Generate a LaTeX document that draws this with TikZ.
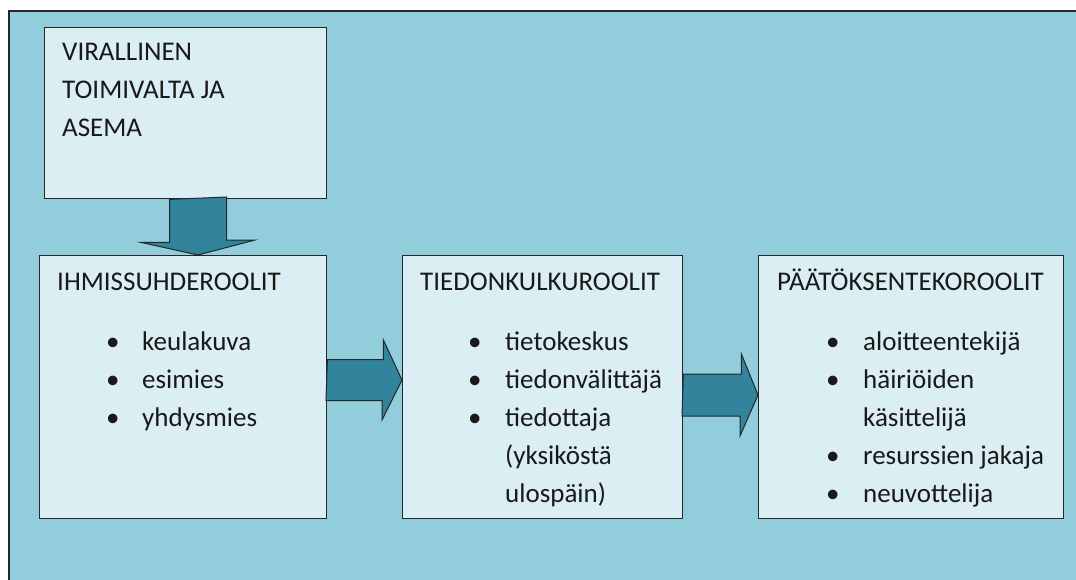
\documentclass[tikz,border=0pt]{standalone}
\usepackage{fontspec}
\setmainfont{Carlito}
\usetikzlibrary{calc}
\definecolor{bgblue}{HTML}{92CDDC}
\definecolor{boxblue}{HTML}{DAEEF3}
\definecolor{arrowteal}{HTML}{31849B}

\begin{document}
\begin{tikzpicture}[
  x=1pt, y=-1pt,
  font=\fontsize{27}{38}\selectfont,
  rolebox/.style={draw=black!85, line width=1.4pt, fill=boxblue, anchor=north west, inner sep=0pt},
  roletext/.style={anchor=base west, inner sep=0pt, text=black!90},
  blockarrow/.style={draw=black!85, line width=1pt, fill=arrowteal, line join=miter}
]
  \useasboundingbox (0,0) rectangle (1076,579);

  % background panel, open to the right and below
  \fill[bgblue] (9,11) rectangle (1100,600);
  \draw[black!85, line width=1.6pt] (9,600) -- (9,11) -- (1100,11);

  % boxes
  \node[rolebox, minimum width=282pt, minimum height=171pt] (virall) at (44,27) {};
  \node[rolebox, minimum width=287pt, minimum height=263pt] (ihmis) at (39,255) {};
  \node[rolebox, minimum width=280pt, minimum height=263pt] (tiedon) at (402,255) {};
  \node[rolebox, minimum width=305pt, minimum height=263pt] (paatos) at (758,255) {};

  % texts
  \node[roletext] (virtext) at ($(virall.north west)+(18,33)$)
    {\begin{tabular}[t]{@{}l@{}}VIRALLINEN\\TOIMIVALTA JA\\ASEMA\end{tabular}};

  \node[roletext] (ihmistitle) at ($(ihmis.north west)+(18,35)$) {IHMISSUHDEROOLIT};
  \node[roletext] (ihmislist) at ($(ihmis.north west)+(67,95)$)
    {\begin{tabular}[t]{@{}p{36pt}@{}l@{}}
      \textbullet & keulakuva\\
      \textbullet & esimies\\
      \textbullet & yhdysmies
    \end{tabular}};

  \node[roletext] (tiedontitle) at ($(tiedon.north west)+(18,35)$) {TIEDONKULKUROOLIT};
  \node[roletext] (tiedonlist) at ($(tiedon.north west)+(66,95)$)
    {\begin{tabular}[t]{@{}p{37pt}@{}l@{}}
      \textbullet & tietokeskus\\
      \textbullet & tiedonvälittäjä\\
      \textbullet & tiedottaja\\
      & (yksiköstä\\
      & ulospäin)
    \end{tabular}};

  \node[roletext] (paatostitle) at ($(paatos.north west)+(19,35)$) {PÄÄTÖKSENTEKOROOLIT};
  \node[roletext] (paatoslist) at ($(paatos.north west)+(68,95)$)
    {\begin{tabular}[t]{@{}p{37pt}@{}l@{}}
      \textbullet & aloitteentekijä\\
      \textbullet & häiriöiden\\
      & käsittelijä\\
      \textbullet & resurssien jakaja\\
      \textbullet & neuvottelija
    \end{tabular}};

  % block arrows
  \coordinate (tipdown) at (ihmis.north -| 198,0);
  \coordinate (tipA) at (tiedon.west |- 0,380);
  \coordinate (tipB) at (paatos.west |- 0,395);

  \draw[blockarrow] ($(virall.south -| tipdown)+(-28.5,0)$) -- ++(0,43) -- ++(-28.5,0)
    -- (tipdown) -- ++(57,-15) -- ++(-28.5,0) -- ++(0,-43) -- cycle;
  \draw[blockarrow] ($(tipA -| ihmis.east)+(0,-20.5)$) -- ++(56,0) -- ++(0,-19.5)
    -- (tipA) -- ++(-20,40) -- ++(0,-19.5) -- ++(-56,0) -- cycle;
  \draw[blockarrow] ($(tipB -| tiedon.east)+(0,-21)$) -- ++(58,0) -- ++(0,-20)
    -- (tipB) -- ++(-18,41) -- ++(0,-20) -- ++(-58,0) -- cycle;
\end{tikzpicture}
\end{document}
